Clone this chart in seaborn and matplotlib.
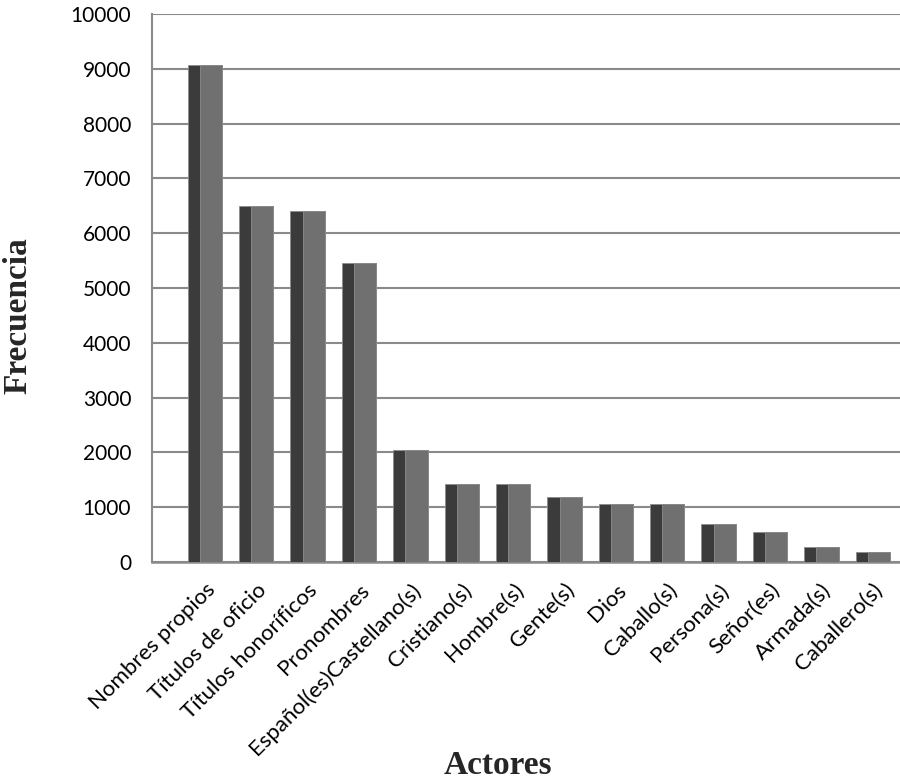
import matplotlib
matplotlib.use("Agg")
import matplotlib.pyplot as plt
import matplotlib.transforms as mtransforms
import seaborn as sns
import pandas as pd

# Frequency of actor categories
actores = [
    "Nombres propios", "Títulos de oficio", "Títulos honoríficos", "Pronombres",
    "Español(es)Castellano(s)", "Cristiano(s)", "Hombre(s)", "Gente(s)", "Dios",
    "Caballo(s)", "Persona(s)", "Señor(es)", "Armada(s)", "Caballero(s)",
]
frecuencia = [9070, 6500, 6410, 5460, 2040, 1430, 1420, 1180, 1060, 1050, 690, 550, 280, 190]
y_ticks = [0, 1000, 2000, 3000, 4000, 5000, 6000, 7000, 8000, 9000, 10000]

df = pd.DataFrame({"Actores": actores, "Frecuencia": frecuencia})

sns.set_theme(style="white")
plt.rcParams["font.family"] = ["Lato", "DejaVu Sans"]

fig = plt.figure(figsize=(9.0, 7.81), dpi=100)
ax = fig.add_axes([152 / 900, 219 / 781, 748 / 900, 548 / 781])

# side face (dark) of each pseudo-3D column
sns.barplot(data=df, x="Actores", y="Frecuencia", order=actores, color="#3b3b3b",
            saturation=1, width=0.67, edgecolor="#8c8c8c", linewidth=0.6, ax=ax, zorder=3)
n_side = len(ax.patches)

# front face (lighter), shifted to the right part of each column
sns.barplot(data=df, x="Actores", y="Frecuencia", order=actores, color="#707070",
            saturation=1, width=0.43, edgecolor="#8c8c8c", linewidth=0.6, ax=ax, zorder=4)
for p in ax.patches[n_side:]:
    p.set_x(p.get_x() + 0.118)

ax.set_ylim(0, 10000)
ax.set_xlim(-1.03, 13.53)
ax.set_yticks(y_ticks)
ax.set_yticklabels([str(v) for v in y_ticks])
ax.yaxis.grid(True, color="#8a8a8a", linewidth=1.5, zorder=1)
ax.set_axisbelow(True)

for s in ["top", "right"]:
    ax.spines[s].set_visible(False)
ax.spines["left"].set_color("#8a8a8a")
ax.spines["left"].set_linewidth(1.5)
ax.spines["bottom"].set_color("#8a8a8a")
ax.spines["bottom"].set_linewidth(1.8)

ax.tick_params(axis="y", length=0, pad=15, labelsize=15, labelcolor="#000000")
ax.tick_params(axis="x", length=0, pad=18, labelsize=16, labelcolor="#000000")
offset = mtransforms.ScaledTranslation(5 / 72, 0, fig.dpi_scale_trans)
for lbl in ax.get_xticklabels():
    lbl.set_rotation(45)
    lbl.set_ha("right")
    lbl.set_va("center")
    lbl.set_rotation_mode("anchor")
    lbl.set_transform(lbl.get_transform() + offset)

ax.set_xlabel("Actores", fontsize=24, fontweight="bold", family="Liberation Serif")
ax.set_ylabel("Frecuencia", fontsize=24, fontweight="bold", family="Liberation Serif")
ax.xaxis.set_label_coords(0.4626, -0.343)
ax.yaxis.set_label_coords(-0.158, 0.449)

fig.savefig("out.png", dpi=100)
